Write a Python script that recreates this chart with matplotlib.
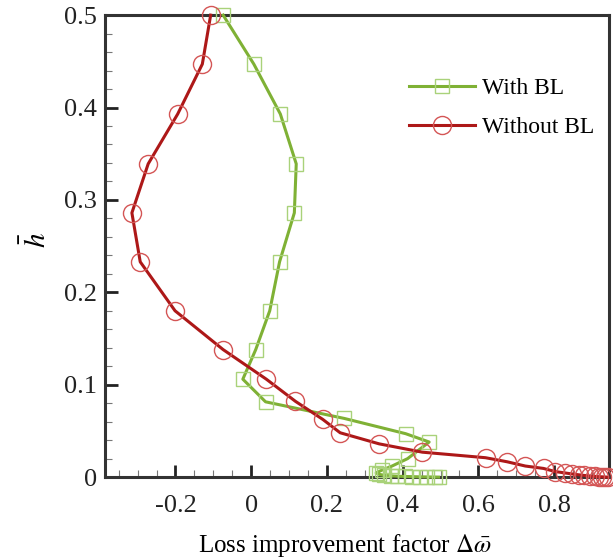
import numpy as np
import matplotlib
matplotlib.use("Agg")
import matplotlib.pyplot as plt
from matplotlib.ticker import MultipleLocator, FuncFormatter

plt.rcParams['font.family'] = ['Liberation Serif', 'DejaVu Serif']
plt.rcParams['mathtext.fontset'] = 'stix'
plt.rcParams['axes.unicode_minus'] = False

# With BL (green squares)
x_bl = [-0.074, 0.007, 0.077, 0.119, 0.114, 0.075, 0.049, 0.012, -0.022, 0.038,
        0.246, 0.408, 0.470, 0.413, 0.372, 0.345, 0.330, 0.338, 0.352, 0.368,
        0.385, 0.405, 0.425, 0.445, 0.465, 0.485, 0.495]
y_bl = [0.500, 0.447, 0.393, 0.339, 0.286, 0.233, 0.180, 0.138, 0.106, 0.0815,
        0.0635, 0.047, 0.038, 0.020, 0.012, 0.0075, 0.0045, 0.003, 0.002, 0.0014,
        0.001, 0.0007, 0.0005, 0.0003, 0.0002, 0.0001, 0.0]

# Without BL (red circles)
x_nobl = [-0.107, -0.129, -0.194, -0.272, -0.315, -0.293, -0.201, -0.074, 0.040, 0.117,
          0.189, 0.235, 0.338, 0.452, 0.619, 0.676, 0.724, 0.772, 0.803, 0.829,
          0.848, 0.865, 0.880, 0.895, 0.907, 0.918, 0.927, 0.935, 0.942]
y_nobl = [0.500, 0.447, 0.393, 0.339, 0.286, 0.233, 0.180, 0.138, 0.106, 0.082,
          0.0625, 0.048, 0.036, 0.027, 0.021, 0.0166, 0.012, 0.0094, 0.006, 0.0045,
          0.0034, 0.0025, 0.0018, 0.0012, 0.0008, 0.0005, 0.0003, 0.0001, 0.0]

fig = plt.figure(figsize=(6.13, 5.6), dpi=100)
ax = fig.add_axes([0.1713, 0.148, 0.8222, 0.825])

ax.plot(x_bl, y_bl, color='#7fb135', lw=2.2, marker='s', ms=10,
        mfc='none', mec='#a9d27a', mew=1.0, clip_on=False, label='With BL', zorder=3)
ax.plot(x_nobl, y_nobl, color='#ad1818', lw=2.2, marker='o', ms=13,
        mfc='none', mec='#d45555', mew=1.0, clip_on=False, label='Without BL', zorder=3)

ax.set_xlim(-0.386, 0.945)
ax.set_ylim(0, 0.5)

ax.xaxis.set_major_locator(MultipleLocator(0.2))
ax.xaxis.set_minor_locator(MultipleLocator(0.05))
ax.yaxis.set_major_locator(MultipleLocator(0.1))
ax.yaxis.set_minor_locator(MultipleLocator(0.02))
fmt = FuncFormatter(lambda v, p: '%g' % round(v, 3))
ax.xaxis.set_major_formatter(fmt)
ax.yaxis.set_major_formatter(fmt)

ax.tick_params(which='both', direction='in', top=False, right=False,
               labelsize=19, colors='#222222')
ax.tick_params(which='major', length=9, width=2)
ax.tick_params(which='minor', length=5, width=0.8, color='#777777')
ax.tick_params(axis='x', which='major', pad=13)
ax.tick_params(axis='y', which='major', pad=6)
for s in ax.spines.values():
    s.set_linewidth(2.2)
    s.set_color('#333333')

ax.set_xlabel(r'Loss improvement factor $\Delta\bar{\omega}$', fontsize=18)
ax.xaxis.set_label_coords(0.476, -0.118)
ax.set_ylabel(r'$\bar{h}$', fontsize=21)
ax.yaxis.set_label_coords(-0.105, 0.513)

ax.legend(loc='upper left', bbox_to_anchor=(0.56, 0.91), frameon=False,
          fontsize=17, handlelength=2.8, handletextpad=0.3, labelspacing=0.72)

fig.savefig('out.png', dpi=100)
